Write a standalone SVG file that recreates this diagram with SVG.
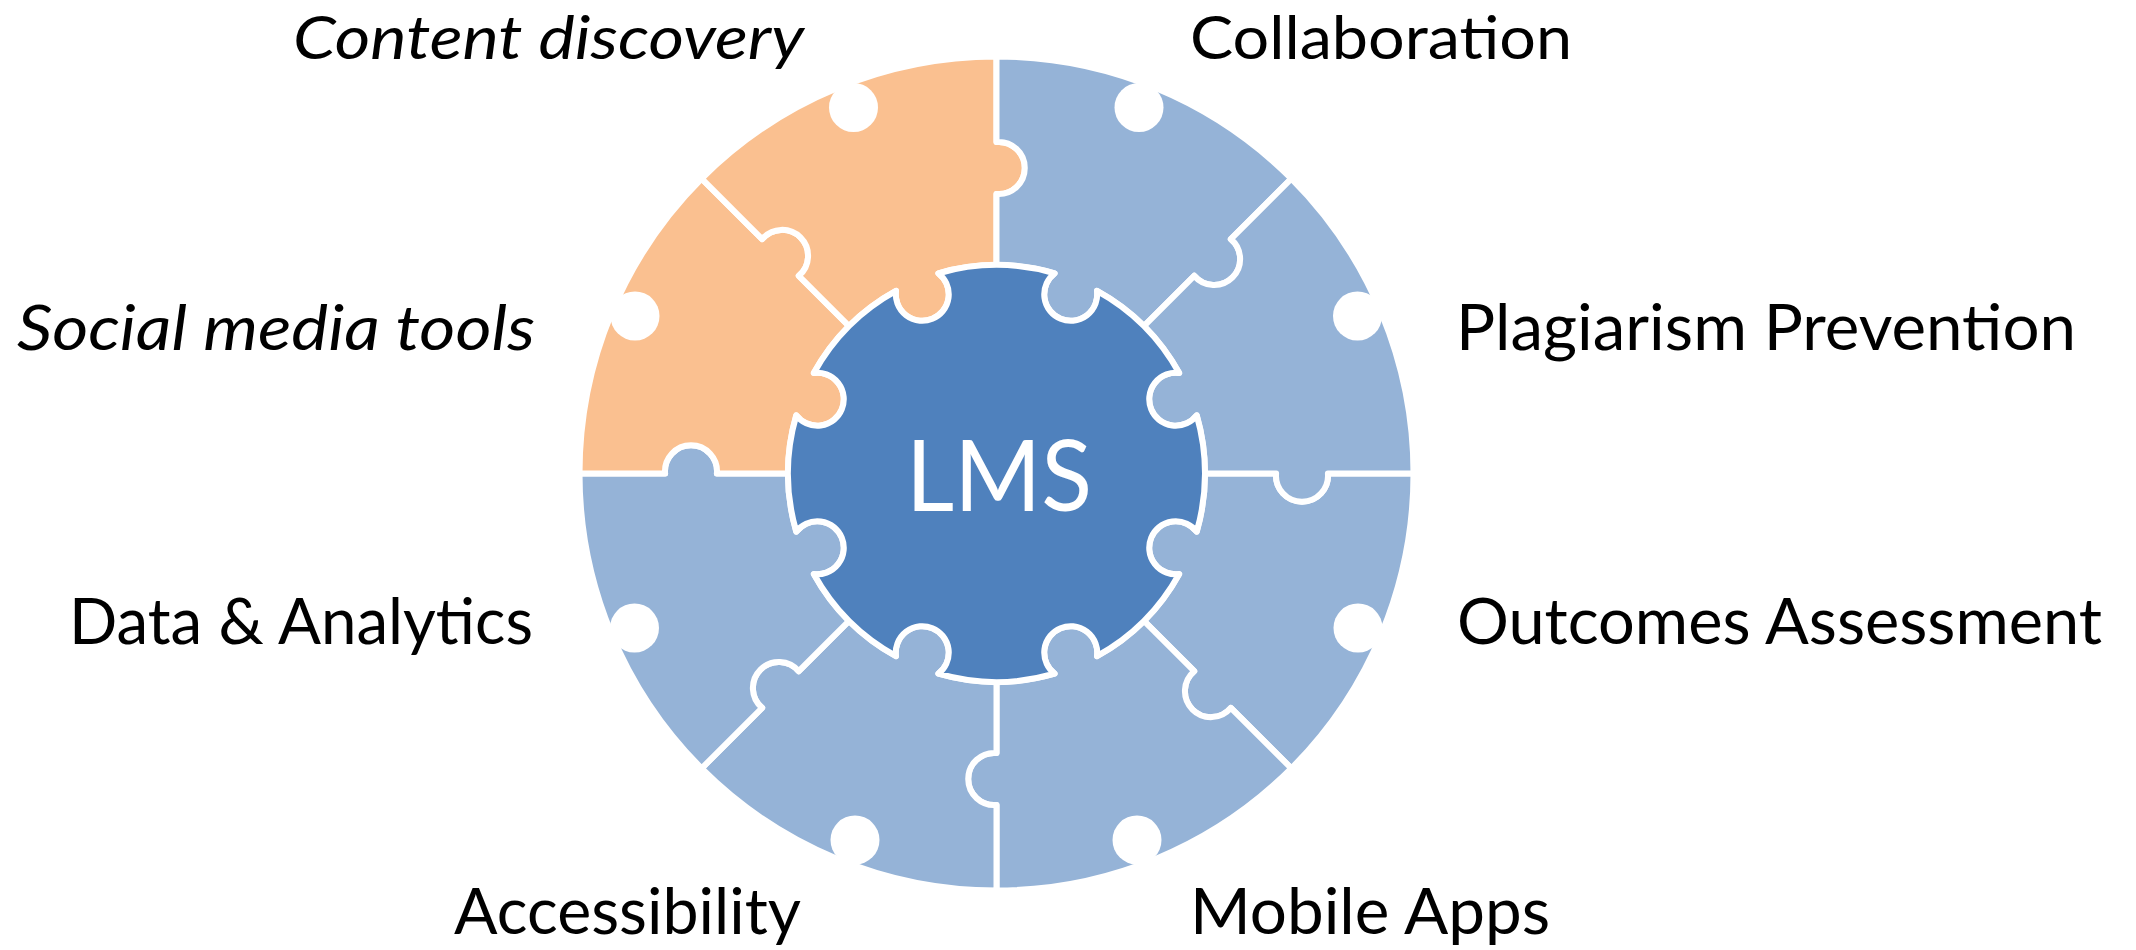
<svg xmlns="http://www.w3.org/2000/svg" width="2136" height="950" viewBox="0 0 2136 950">
<style>
.p{stroke:#FFFFFF;stroke-width:6;stroke-linejoin:round}
.o{fill:#FAC090}
.b{fill:#95B3D7}
.c{fill:#4F81BD}
.n{fill:#FFFFFF}
.t{font-family:Lato,"Liberation Sans",sans-serif;font-size:63px;fill:#000000}
.top{font-size:59.5px}
.i{font-style:italic}
.lms{font-family:Lato,"Liberation Sans",sans-serif;font-size:99px;fill:#FFFFFF}
</style>
<rect width="2136" height="950" fill="#FFFFFF"/>
<g id="piece-outcomes">
<path class="p b" d="M 1205,473.5 L 1276.1,473.5 A 26 26 0 1 0 1327.9,473.5 L 1413.5,473.5 A 417 417 0 0 1 1291.36,768.36 L 1230.84,707.84 A 26 26 0 1 1 1194.21,671.21 L 1143.93,620.93 A 208.5 208.5 0 0 0 1179.18,574.01 A 26.5 26.5 0 1 1 1196.74,531.60 A 208.5 208.5 0 0 0 1205,473.5 Z"/>
<circle class="n" cx="1358" cy="628" r="24.5"/>
<text class="t" x="1457" y="644" textLength="645" lengthAdjust="spacingAndGlyphs">Outcomes Assessment</text>
</g>
<g id="piece-mobile">
<path class="p b" d="M 1143.93,620.93 L 1194.21,671.21 A 26 26 0 1 0 1230.84,707.84 L 1291.36,768.36 A 417 417 0 0 1 996.5,890.5 L 996.5,804.9 A 26 26 0 1 1 996.5,753.1 L 996.5,682 A 208.5 208.5 0 0 0 1054.60,673.74 A 26.5 26.5 0 1 1 1097.01,656.18 A 208.5 208.5 0 0 0 1143.93,620.93 Z"/>
<circle class="n" cx="1137" cy="840" r="24.5"/>
<text class="t" x="1190" y="934" textLength="360" lengthAdjust="spacingAndGlyphs">Mobile Apps</text>
</g>
<g id="piece-accessibility">
<path class="p b" d="M 996.5,682 L 996.5,753.1 A 26 26 0 1 0 996.5,804.9 L 996.5,890.5 A 417 417 0 0 1 701.64,768.36 L 762.16,707.84 A 26 26 0 1 1 798.79,671.21 L 849.07,620.93 A 208.5 208.5 0 0 0 895.99,656.18 A 26.5 26.5 0 1 1 938.40,673.74 A 208.5 208.5 0 0 0 996.5,682 Z"/>
<circle class="n" cx="855" cy="840" r="24.5"/>
<text class="t" x="454" y="934" textLength="347" lengthAdjust="spacingAndGlyphs">Accessibility</text>
</g>
<g id="piece-data">
<path class="p b" d="M 849.07,620.93 L 798.79,671.21 A 26 26 0 1 0 762.16,707.84 L 701.64,768.36 A 417 417 0 0 1 579.5,473.5 L 665.1,473.5 A 26 26 0 1 1 716.9,473.5 L 788,473.5 A 208.5 208.5 0 0 0 796.26,531.60 A 26.5 26.5 0 1 1 813.82,574.01 A 208.5 208.5 0 0 0 849.07,620.93 Z"/>
<circle class="n" cx="634.5" cy="628" r="24.5"/>
<text class="t" x="69" y="644" textLength="464" lengthAdjust="spacingAndGlyphs">Data &amp; Analytics</text>
</g>
<g id="piece-social">
<path class="p o" d="M 788,473.5 L 716.9,473.5 A 26 26 0 1 0 665.1,473.5 L 579.5,473.5 A 417 417 0 0 1 701.64,178.64 L 762.16,239.16 A 26 26 0 1 1 798.79,275.79 L 849.07,326.07 A 208.5 208.5 0 0 0 813.82,372.99 A 26.5 26.5 0 1 1 796.26,415.40 A 208.5 208.5 0 0 0 788,473.5 Z"/>
<circle class="n" cx="635" cy="316" r="24.5"/>
<text class="t i" x="17" y="350" textLength="518" lengthAdjust="spacingAndGlyphs">Social media tools</text>
</g>
<g id="piece-content">
<path class="p o" d="M 849.07,326.07 L 798.79,275.79 A 26 26 0 1 0 762.16,239.16 L 701.64,178.64 A 417 417 0 0 1 996.5,56.5 L 996.5,142.1 A 26 26 0 1 1 996.5,193.9 L 996.5,265 A 208.5 208.5 0 0 0 938.40,273.26 A 26.5 26.5 0 1 1 895.99,290.82 A 208.5 208.5 0 0 0 849.07,326.07 Z"/>
<circle class="n" cx="853.5" cy="107.5" r="24.5"/>
<text class="t top i" x="293" y="59" textLength="511" lengthAdjust="spacingAndGlyphs">Content discovery</text>
</g>
<g id="piece-collaboration">
<path class="p b" d="M 996.5,265 L 996.5,193.9 A 26 26 0 1 0 996.5,142.1 L 996.5,56.5 A 417 417 0 0 1 1291.36,178.64 L 1230.84,239.16 A 26 26 0 1 1 1194.21,275.79 L 1143.93,326.07 A 208.5 208.5 0 0 0 1097.01,290.82 A 26.5 26.5 0 1 1 1054.60,273.26 A 208.5 208.5 0 0 0 996.5,265 Z"/>
<circle class="n" cx="1139" cy="107.5" r="24.5"/>
<text class="t top" x="1190" y="59" textLength="382" lengthAdjust="spacingAndGlyphs">Collaboration</text>
</g>
<g id="piece-plagiarism">
<path class="p b" d="M 1143.93,326.07 L 1194.21,275.79 A 26 26 0 1 0 1230.84,239.16 L 1291.36,178.64 A 417 417 0 0 1 1413.5,473.5 L 1327.9,473.5 A 26 26 0 1 1 1276.1,473.5 L 1205,473.5 A 208.5 208.5 0 0 0 1196.74,415.40 A 26.5 26.5 0 1 1 1179.18,372.99 A 208.5 208.5 0 0 0 1143.93,326.07 Z"/>
<circle class="n" cx="1357.5" cy="316" r="24.5"/>
<text class="t" x="1456" y="350" textLength="620" lengthAdjust="spacingAndGlyphs">Plagiarism Prevention</text>
</g>
<g id="lms">
<path class="p c" d="M 1205,473.5 A 208.5 208.5 0 0 1 1196.74,531.60 A 26.5 26.5 0 1 0 1179.18,574.01 A 208.5 208.5 0 0 1 1097.01,656.18 A 26.5 26.5 0 1 0 1054.60,673.74 A 208.5 208.5 0 0 1 938.40,673.74 A 26.5 26.5 0 1 0 895.99,656.18 A 208.5 208.5 0 0 1 813.82,574.01 A 26.5 26.5 0 1 0 796.26,531.60 A 208.5 208.5 0 0 1 796.26,415.40 A 26.5 26.5 0 1 0 813.82,372.99 A 208.5 208.5 0 0 1 895.99,290.82 A 26.5 26.5 0 1 0 938.40,273.26 A 208.5 208.5 0 0 1 1054.60,273.26 A 26.5 26.5 0 1 0 1097.01,290.82 A 208.5 208.5 0 0 1 1179.18,372.99 A 26.5 26.5 0 1 0 1196.74,415.40 A 208.5 208.5 0 0 1 1205,473.5 Z"/>
<text class="lms" x="999" y="511" text-anchor="middle" textLength="186" lengthAdjust="spacingAndGlyphs">LMS</text>
</g>
<g id="connectors"></g>
</svg>
